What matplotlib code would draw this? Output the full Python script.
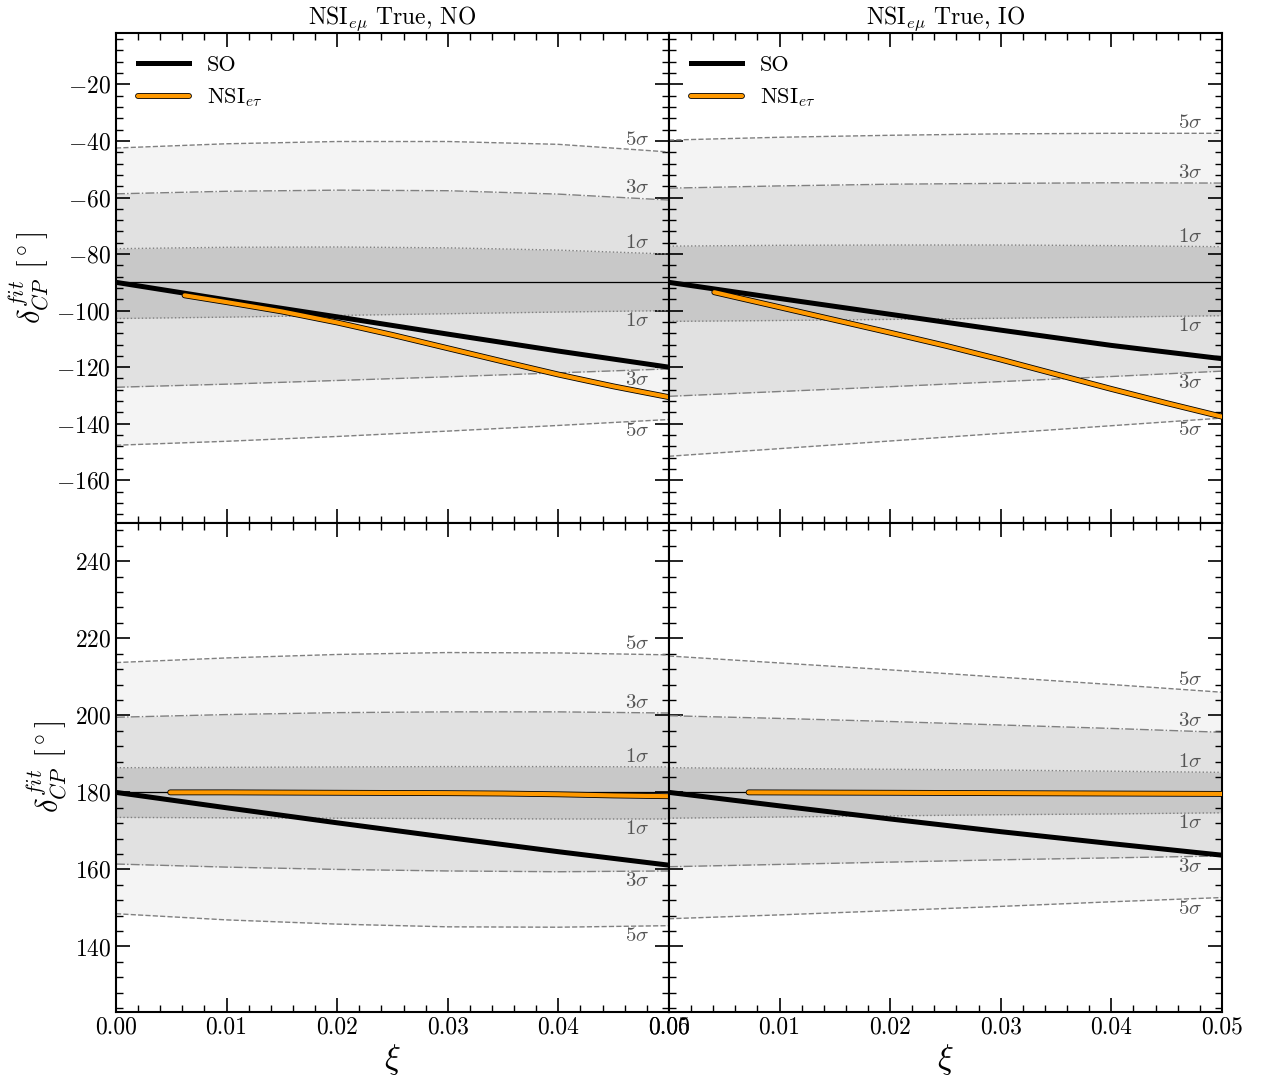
import numpy as np
import matplotlib
matplotlib.use("Agg")
import matplotlib.pyplot as plt
import matplotlib.patheffects as pe
from matplotlib.ticker import MultipleLocator

plt.rcParams['font.family'] = 'cmr10'
plt.rcParams['mathtext.fontset'] = 'cm'
plt.rcParams['axes.formatter.use_mathtext'] = True

# xi grid on which the contours were read
xi = [0.0, 0.01, 0.02, 0.03, 0.04, 0.05]

# ---------------- NO, delta_true = -90 ----------------
no_m90_5up = [-42.5, -41.0, -40.2, -40.2, -41.2, -43.9]
no_m90_3up = [-58.7, -57.8, -57.4, -57.6, -58.8, -60.9]
no_m90_1up = [-78.1, -77.6, -77.5, -77.8, -78.6, -80.0]
no_m90_1lo = [-102.8, -102.3, -101.7, -101.1, -100.5, -100.0]
no_m90_3lo = [-127.1, -126.0, -124.7, -123.4, -122.0, -120.6]
no_m90_5lo = [-147.6, -146.2, -144.5, -142.6, -140.6, -138.5]
no_m90_so = [-90.0, -96.2, -102.2, -108.3, -114.3, -120.0]
no_m90_nsi_xi = [0.0062, 0.01, 0.015, 0.02, 0.025, 0.03, 0.035, 0.04, 0.045, 0.05]
no_m90_nsi = [-94.6, -97.0, -100.3, -104.2, -108.6, -113.3, -118.0, -122.6, -126.8, -130.6]

# ---------------- IO, delta_true = -90 ----------------
io_m90_5up = [-39.7, -38.7, -38.0, -37.5, -37.3, -37.3]
io_m90_3up = [-56.7, -55.9, -55.3, -55.0, -54.8, -54.9]
io_m90_1up = [-77.2, -76.9, -76.8, -76.8, -77.0, -77.4]
io_m90_1lo = [-103.8, -103.5, -103.1, -102.7, -102.3, -101.8]
io_m90_3lo = [-130.3, -128.6, -126.9, -125.1, -123.3, -121.4]
io_m90_5lo = [-151.5, -148.8, -146.1, -143.4, -140.7, -138.0]
io_m90_so = [-90.0, -95.7, -101.3, -106.9, -112.3, -117.0]
io_m90_nsi_xi = [0.0041, 0.01, 0.015, 0.02, 0.025, 0.03, 0.035, 0.04, 0.045, 0.05]
io_m90_nsi = [-93.5, -98.8, -103.3, -107.8, -112.4, -117.3, -122.5, -127.7, -132.7, -137.5]

# ---------------- NO, delta_true = 180 ----------------
no_180_5up = [213.7, 214.9, 215.8, 216.3, 216.2, 215.7]
no_180_3up = [199.5, 200.2, 200.7, 200.9, 200.9, 200.6]
no_180_1up = [186.4, 186.5, 186.6, 186.7, 186.7, 186.6]
no_180_1lo = [173.5, 173.4, 173.3, 173.2, 173.1, 173.1]
no_180_3lo = [161.4, 160.6, 160.0, 159.6, 159.4, 159.6]
no_180_5lo = [148.5, 146.9, 145.8, 145.1, 145.0, 145.4]
no_180_so = [180.0, 176.0, 172.1, 168.3, 164.6, 161.1]
no_180_nsi_xi = [0.0049, 0.01, 0.02, 0.03, 0.035, 0.04, 0.045, 0.05]
no_180_nsi = [180.0, 180.0, 179.9, 179.8, 179.7, 179.5, 179.2, 179.0]

# ---------------- IO, delta_true = 180 ----------------
io_180_5up = [215.4, 213.6, 211.8, 209.9, 208.0, 206.0]
io_180_3up = [199.9, 199.2, 198.4, 197.5, 196.6, 195.6]
io_180_1up = [186.4, 186.2, 186.0, 185.8, 185.5, 185.2]
io_180_1lo = [173.3, 173.6, 173.9, 174.2, 174.4, 174.7]
io_180_3lo = [160.7, 161.3, 161.9, 162.5, 163.0, 163.5]
io_180_5lo = [147.2, 148.2, 149.3, 150.4, 151.6, 152.7]
io_180_so = [180.0, 176.5, 173.1, 169.8, 166.7, 163.7]
io_180_nsi_xi = [0.0072, 0.02, 0.03, 0.04, 0.05]
io_180_nsi = [180.0, 179.9, 179.8, 179.7, 179.6]

titles = [r'NSI$_{e\mu}$ True, NO', r'NSI$_{e\mu}$ True, IO']
delta_true = [-90.0, 180.0]
ylims = [(-175, -2), (123, 250)]

panels = [
    [(no_m90_5up, no_m90_3up, no_m90_1up, no_m90_1lo, no_m90_3lo, no_m90_5lo, no_m90_so, no_m90_nsi_xi, no_m90_nsi),
     (io_m90_5up, io_m90_3up, io_m90_1up, io_m90_1lo, io_m90_3lo, io_m90_5lo, io_m90_so, io_m90_nsi_xi, io_m90_nsi)],
    [(no_180_5up, no_180_3up, no_180_1up, no_180_1lo, no_180_3lo, no_180_5lo, no_180_so, no_180_nsi_xi, no_180_nsi),
     (io_180_5up, io_180_3up, io_180_1up, io_180_1lo, io_180_3lo, io_180_5lo, io_180_so, io_180_nsi_xi, io_180_nsi)],
]

band_cols = {5: '#f4f4f4', 3: '#e1e1e1', 1: '#c8c8c8'}
band_ls = {5: '--', 3: '-.', 1: ':'}
lab_x = 0.0471

fig, axs = plt.subplots(2, 2, figsize=(12.61, 10.8), dpi=100)
fig.subplots_adjust(left=0.092, right=0.969, top=0.969, bottom=0.063,
                    wspace=0, hspace=0)

for r in range(2):
    for c in range(2):
        ax = axs[r, c]
        up5, up3, up1, lo1, lo3, lo5, so, nsi_x, nsi = panels[r][c]
        ups = {5: up5, 3: up3, 1: up1}
        los = {5: lo5, 3: lo3, 1: lo1}
        for s in [5, 3, 1]:
            ax.fill_between(xi, los[s], ups[s], color=band_cols[s], lw=0, zorder=1)
        for s in [5, 3, 1]:
            ax.plot(xi, ups[s], color='gray', ls=band_ls[s], lw=1.0, zorder=2)
            ax.plot(xi, los[s], color='gray', ls=band_ls[s], lw=1.0, zorder=2)
            yu = np.interp(lab_x, xi, ups[s])
            yl = np.interp(lab_x, xi, los[s])
            ax.text(lab_x, yu + 0.3, r'$%d\sigma$' % s, color='#555555', fontsize=15,
                    ha='center', va='bottom', zorder=3)
            ax.text(lab_x, yl - 0.3, r'$%d\sigma$' % s, color='#555555', fontsize=15,
                    ha='center', va='top', zorder=3)
        ax.axhline(delta_true[r], color='k', lw=0.9, zorder=3)
        ax.plot(xi, so, color='k', lw=3.6, label='SO', zorder=4)
        ax.plot(nsi_x, nsi, color='#ff9900', lw=3.0, label=r'NSI$_{e\tau}$', zorder=5,
                solid_capstyle='round',
                path_effects=[pe.Stroke(linewidth=4.2, foreground='k'), pe.Normal()])

        ax.set_xlim(0, 0.05)
        ax.set_ylim(*ylims[r])
        ax.xaxis.set_major_locator(MultipleLocator(0.01))
        ax.xaxis.set_minor_locator(MultipleLocator(0.002))
        ax.yaxis.set_major_locator(MultipleLocator(20))
        ax.yaxis.set_minor_locator(MultipleLocator(4))
        ax.xaxis.set_major_formatter(plt.FormatStrFormatter('%.2f'))
        ax.tick_params(which='both', direction='in', top=True, right=True,
                       labelsize=17)
        ax.tick_params(which='major', length=10, width=1.2)
        ax.tick_params(which='minor', length=5, width=1.0)
        for sp in ax.spines.values():
            sp.set_linewidth(1.5)

        if r == 0:
            ax.set_title(titles[c], fontsize=17, pad=6)
            ax.tick_params(labelbottom=False)
            ax.legend(loc='upper left', frameon=False, fontsize=16,
                      handlelength=2.3, borderaxespad=0.6, labelspacing=0.5)
        else:
            ax.set_xlabel(r'$\xi$', fontsize=24, labelpad=2)
        if c == 0:
            ax.set_ylabel(r'$\delta_{CP}^{fit}$ [$^\circ$]', fontsize=22, labelpad=4)
        else:
            ax.tick_params(labelleft=False)

fig.savefig('out.png', dpi=100)
